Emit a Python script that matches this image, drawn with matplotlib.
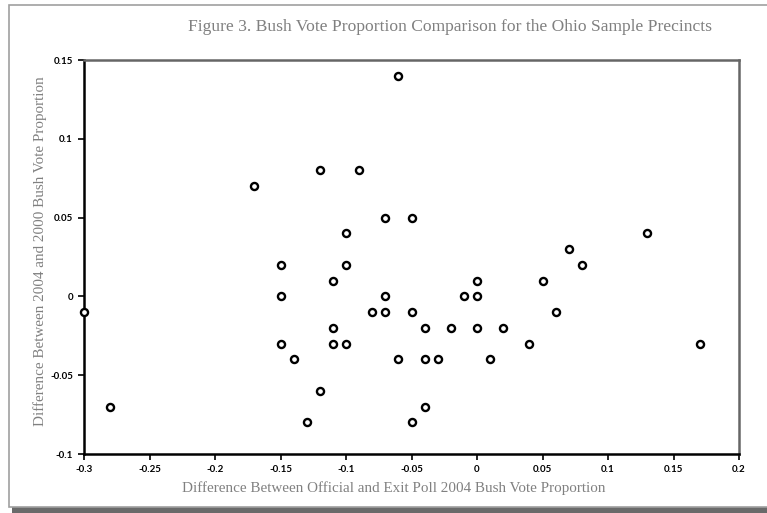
import numpy as np
import matplotlib
matplotlib.use('Agg')
from matplotlib import pyplot as plt
from matplotlib.patches import Rectangle
from matplotlib.ticker import FuncFormatter

matplotlib.rcParams['axes.unicode_minus'] = False

# official vs exit poll difference (x) and 2004-2000 difference (y)
xVals = [-0.30, -0.28, -0.17, -0.15, -0.15, -0.15, -0.14, -0.13, -0.12, -0.12,
         -0.11, -0.11, -0.11, -0.10, -0.10, -0.10, -0.09, -0.08, -0.07, -0.07,
         -0.07, -0.06, -0.06, -0.05, -0.05, -0.05, -0.04, -0.04, -0.04, -0.03,
         -0.02, -0.01, 0.00, 0.00, 0.00, 0.01, 0.02, 0.04, 0.05, 0.06,
         0.07, 0.08, 0.13, 0.17]
yVals = [-0.01, -0.07, 0.07, 0.02, 0.00, -0.03, -0.04, -0.08, 0.08, -0.06,
         0.01, -0.02, -0.03, 0.04, 0.02, -0.03, 0.08, -0.01, 0.05, 0.00,
         -0.01, 0.14, -0.04, 0.05, -0.01, -0.08, -0.02, -0.04, -0.07, -0.04,
         -0.02, 0.00, 0.01, 0.00, -0.02, -0.04, -0.02, -0.03, 0.01, -0.01,
         0.03, 0.02, 0.04, -0.03]

xTicks = [-0.3, -0.25, -0.2, -0.15, -0.1, -0.05, 0, 0.05, 0.1, 0.15, 0.2]
yTicks = [-0.1, -0.05, 0, 0.05, 0.1, 0.15]

title = 'Figure 3. Bush Vote Proportion Comparison for the Ohio Sample Precincts'
xLabel = 'Difference Between Official and Exit Poll 2004 Bush Vote Proportion'
yLabel = 'Difference Between 2004 and 2000 Bush Vote Proportion'

W, H = 767, 513
fig = plt.figure(figsize=(W/100, H/100), dpi=100)
fig.patch.set_facecolor('white')

# page frame with drop shadow
fig.add_artist(Rectangle((12/W, 0), 1, 1-10/H, transform=fig.transFigure,
                         facecolor='#6a6a6a', edgecolor='none', zorder=-3))
fig.add_artist(Rectangle((9/W, 6/H), 1.2, 1-11/H, transform=fig.transFigure,
                         facecolor='white', edgecolor='#a0a0a0', lw=1.2, zorder=-2))

ax = fig.add_axes([84/W, 1-454/H, (739-84)/W, (454-60)/H])
ax.set_zorder(1)
ax.scatter(xVals, yVals, s=26, facecolors='white', edgecolors='black',
           linewidths=1.7, zorder=3, clip_on=False)

ax.set_xlim(-0.3, 0.2)
ax.set_ylim(-0.1, 0.15)
ax.set_xticks(xTicks)
ax.set_yticks(yTicks)
fmt = FuncFormatter(lambda v, p: '%g' % round(v, 2))
ax.xaxis.set_major_formatter(fmt)
ax.yaxis.set_major_formatter(fmt)
ax.tick_params(direction='out', length=4, width=1.2, colors='black', pad=4)
for lbl in ax.get_xticklabels() + ax.get_yticklabels():
  lbl.set_fontfamily('Lato')
  lbl.set_fontweight('bold')
  lbl.set_fontsize(7)

for side in ['left', 'bottom']:
  ax.spines[side].set_color('black')
  ax.spines[side].set_linewidth(1.8)
for side in ['top', 'right']:
  ax.spines[side].set_color('#666666')
  ax.spines[side].set_linewidth(1.8)

fig.text(450/W, 1-27/H, title, ha='center', va='center', color='#808080',
         fontsize=12.6, family='Liberation Serif')
fig.text(394/W, 1-488/H, xLabel, ha='center', va='center', color='#808080',
         fontsize=10.9, family='Liberation Serif')
fig.text(40/W, 1-251/H, yLabel, ha='center', va='center', rotation=90,
         color='#808080', fontsize=10.9, family='Liberation Serif')

plt.savefig('out.png', dpi=100)
